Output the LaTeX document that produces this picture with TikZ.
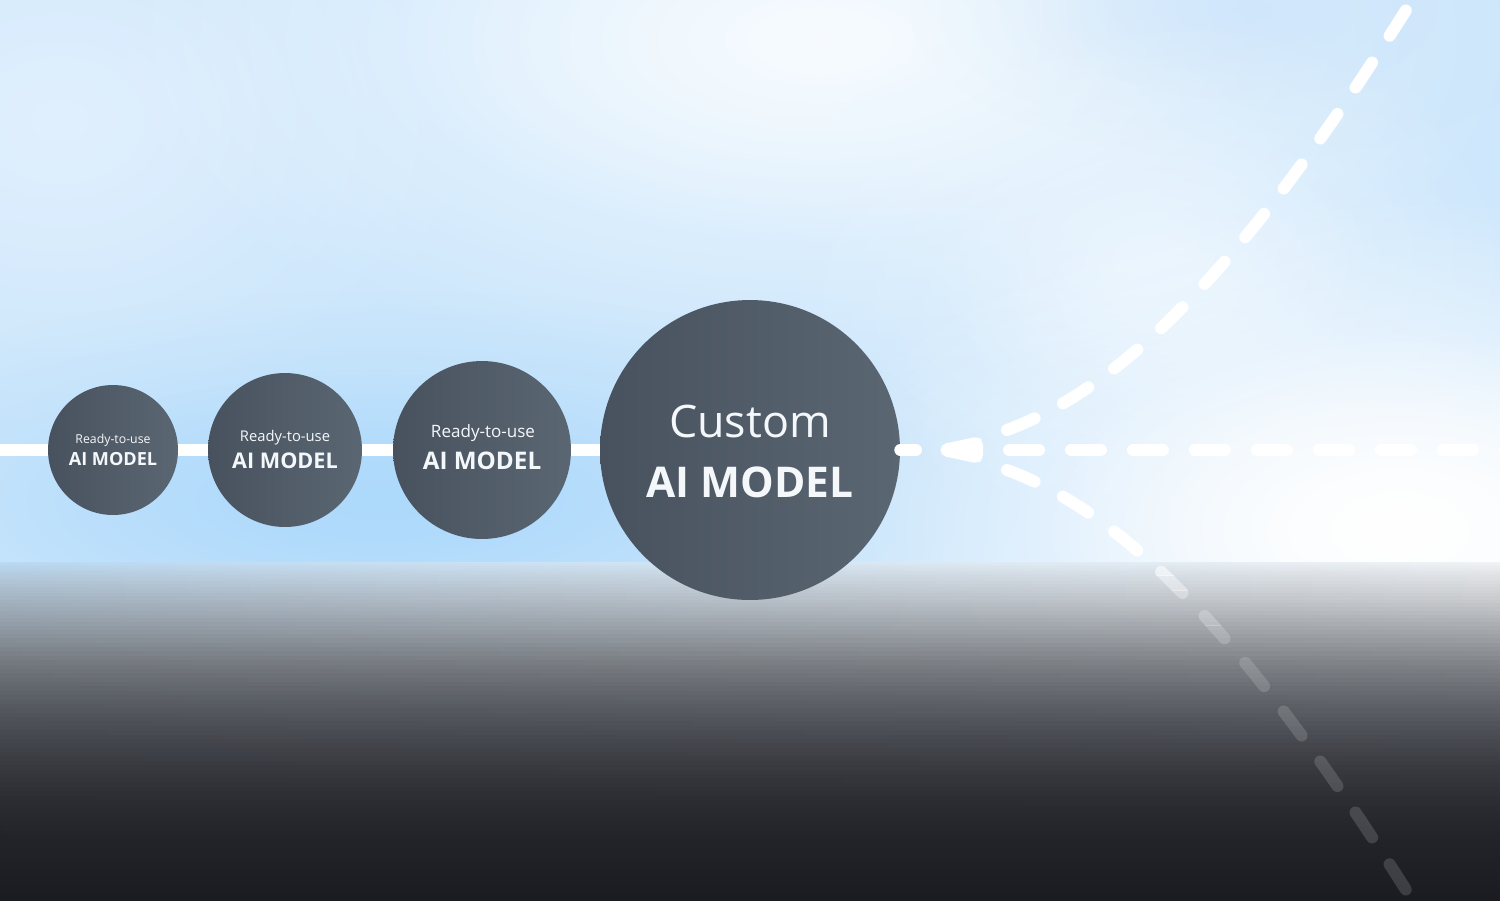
\documentclass[tikz,border=0pt]{standalone}
\usepackage{fontspec}
\setmainfont{Open Sans}
\usetikzlibrary{fadings}
\definecolor{bgbase}{HTML}{CDE7FC}
\definecolor{blobA}{HTML}{E1F0FE}
\definecolor{blobB}{HTML}{F8FCFF}
\definecolor{blobC}{HTML}{ACD9FB}
\definecolor{blobD}{HTML}{CFE6FB}
\definecolor{blobE}{HTML}{EEF7FF}
\definecolor{circL}{HTML}{48525F}
\definecolor{circR}{HTML}{5A6672}
\definecolor{txtc}{HTML}{F5F8FB}
\definecolor{L0}{HTML}{B9DAF5}
\definecolor{L1}{HTML}{B4CBDE}
\definecolor{L2}{HTML}{A4B3C1}
\definecolor{L3}{HTML}{8E98A2}
\definecolor{L4}{HTML}{72777D}
\definecolor{L5}{HTML}{595D64}
\definecolor{L6}{HTML}{46494F}
\definecolor{L7}{HTML}{36383E}
\definecolor{L8}{HTML}{2A2B31}
\definecolor{L9}{HTML}{222329}
\definecolor{L10}{HTML}{1B1C20}
\definecolor{R0}{HTML}{F2F4F6}
\definecolor{R1}{HTML}{E1E3E6}
\definecolor{R2}{HTML}{C9CBCE}
\definecolor{R3}{HTML}{A5A8AC}
\definecolor{R4}{HTML}{7F8287}
\definecolor{R5}{HTML}{62656B}
\definecolor{R6}{HTML}{4A4D53}
\definecolor{R7}{HTML}{38393F}
\definecolor{R8}{HTML}{2B2C32}
\definecolor{R9}{HTML}{222329}
\definecolor{R10}{HTML}{1B1C20}
\tikzfading[name=softfade, inner color=transparent!0, outer color=transparent!100]
% two-layer soft blob: a wide one and a tighter one, for a fuller centre
\newcommand\softblob[6]{%
  \fill[#5, opacity=#6, path fading=softfade] (#1,#2) ellipse ({#3} and {#4});
  \fill[#5, opacity=#6, path fading=softfade] (#1,#2) ellipse ({#3*0.6} and {#4*0.6});}
\tikzset{
  mainline/.style={white, line width=0.24cm},
  branchline/.style={white, line width=0.24cm, line cap=round, dash pattern=on 0.6cm off 0.64cm},
  modelcircle/.style={circle, inner sep=0pt, left color=circL, right color=circR},
  lbl/.style={text=txtc, inner sep=0pt, anchor=base},
}
\begin{document}
\begin{tikzpicture}[x=0.02cm, y=-0.02cm]
\useasboundingbox (0,0) rectangle (1500,900);
\clip (0,0) rectangle (1500,900);
% sky background
\fill[bgbase] (0,0) rectangle (1500,566);
\softblob{60}{120}{420}{320}{blobA}{0.75}
\softblob{820}{40}{720}{340}{blobB}{0.8}
\softblob{380}{500}{640}{210}{blobC}{0.8}
\softblob{1240}{10}{330}{150}{blobD}{0.6}
\softblob{1150}{260}{380}{260}{blobE}{0.6}
\softblob{1400}{530}{620}{340}{white}{0.95}
% dark ground band
\foreach \ya/\yb/\La/\Lb/\Ra/\Rb in {562/575/L0/L1/R0/R1, 575/600/L1/L2/R1/R2, 600/630/L2/L3/R2/R3, 630/665/L3/L4/R3/R4, 665/700/L4/L5/R4/R5, 700/735/L5/L6/R5/R6, 735/770/L6/L7/R6/R7, 770/805/L7/L8/R7/R8, 805/840/L8/L9/R8/R9, 840/901/L9/L10/R9/R10}{
  \foreach \k in {0,...,7}{
    \pgfmathsetmacro{\yy}{\ya+(\yb-\ya)*\k/8}
    \pgfmathsetmacro{\yz}{\ya+(\yb-\ya)*(\k+1)/8+0.8}
    \pgfmathsetmacro{\pc}{(\k+0.5)*12.5}
    \colorlet{rowl}{\Lb!\pc!\La}
    \colorlet{rowr}{\Rb!\pc!\Ra}
    \shade[left color=rowl, right color=rowr] (0,\yy) rectangle (1500,\yz);
  }
}
% coordinates
\coordinate (lstart) at (0,450);
\coordinate (dashend) at (916,450);
\coordinate (h0) at (1009,450);
\coordinate (h1) at (1530,450);
\coordinate (u0) at (1007,430);
\coordinate (u1) at (1157,375);
\coordinate (u2) at (1292.5,192);
\coordinate (u3) at (1425,-20);
\coordinate (d0) at (1007,470);
\coordinate (d1) at (1157,525);
\coordinate (d2) at (1292.5,708);
\coordinate (d3) at (1425,920);
% main line
\draw[mainline] (lstart) -- (750,450);
% circles
\node[modelcircle, minimum size=2.6cm] (c1) at (113,450) {};
\node[modelcircle, minimum size=3.08cm] (c2) at (285,450) {};
\node[modelcircle, minimum size=3.56cm] (c3) at (482,450) {};
\node[modelcircle, minimum size=6cm] (c4) at (750,450) {};
% labels
\node[lbl, font=\fontsize{7}{8}\selectfont] (c1a) at (113,443) {Ready-to-use};
\node[lbl, font=\fontsize{10.3}{12}\selectfont\bfseries] (c1b) at (113,465) {AI MODEL};
\node[lbl, font=\fontsize{8.4}{10}\selectfont] (c2a) at (285,441) {Ready-to-use};
\node[lbl, font=\fontsize{12.3}{14}\selectfont\bfseries] (c2b) at (285,468) {AI MODEL};
\node[lbl, font=\fontsize{9.7}{11}\selectfont] (c3a) at (483,437) {Ready-to-use};
\node[lbl, font=\fontsize{13.8}{16}\selectfont\bfseries] (c3b) at (482,469) {AI MODEL};
\node[lbl, font=\fontsize{25.5}{30}\selectfont] (c4a) at (750,437) {Custom};
\node[lbl, font=\fontsize{24.1}{28}\selectfont\bfseries] (c4b) at (750,497) {AI MODEL};
% short dash and arrowhead
\draw[mainline, line cap=round] (c4.east) -- (dashend);
\fill[white, rounded corners=3] (940.5,444.5) -- (978,436.5) -- (983,441) -- (983,459) -- (978,463.5) -- (940.5,455.5) -- cycle;
% branches
\draw[branchline] (h0) -- (h1);
\draw[branchline] (u0) .. controls (u1) and (u2) .. (u3);
\foreach \ya/\yb/\op in {0/560/1, 560/575/0.6, 575/590/0.42, 590/605/0.32, 605/625/0.24, 625/650/0.18, 650/900/0.15}{
  \begin{scope}
    \clip (0,\ya) rectangle (1500,\yb);
    \draw[branchline, opacity=\op] (d0) .. controls (d1) and (d2) .. (d3);
  \end{scope}
}
\end{tikzpicture}
\end{document}
